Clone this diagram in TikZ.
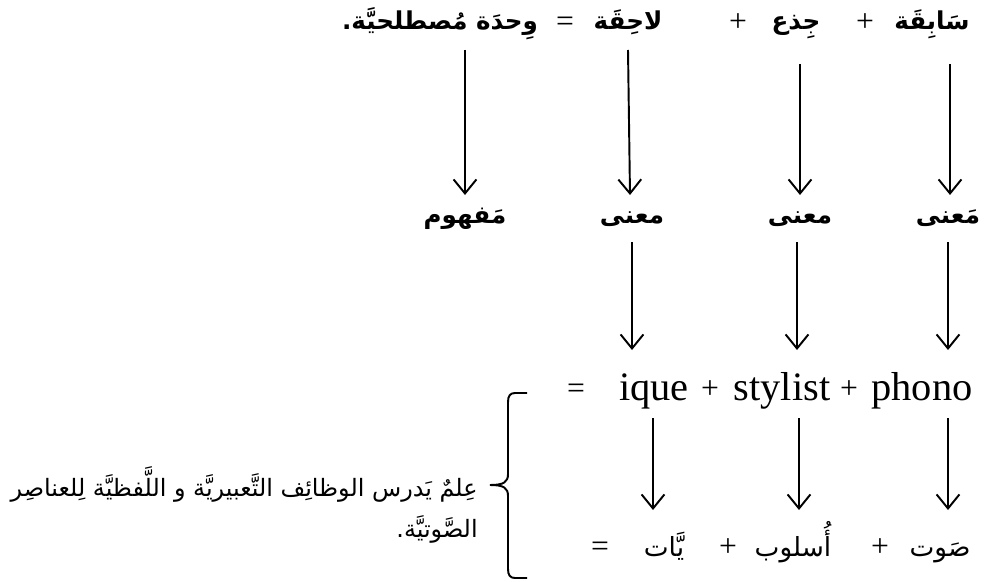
\documentclass[tikz,border=0pt]{standalone}
\usepackage{fontspec}
\setmainfont{Liberation Serif}
\newfontfamily\arabicfont[Script=Arabic]{DejaVu Sans}
\TeXXeTstate=1
\usepackage{tikz}
\usetikzlibrary{arrows.meta}
\tikzset{>={Straight Barb[length=8pt,width=13pt]}}
\newcommand{\arab}[1]{{\arabicfont\beginR #1\endR}}
\tikzset{
  toprow/.style={font=\fontsize{14}{17}\selectfont\bfseries, inner sep=0pt, anchor=base},
  latrow/.style={font=\fontsize{23}{27}\selectfont, inner sep=0pt, anchor=base},
  botrow/.style={font=\fontsize{15}{18}\selectfont, inner sep=0pt, anchor=base},
  sign/.style={font=\fontsize{18}{21}\selectfont, inner sep=0pt, anchor=base},
  arr/.style={->, line width=1.1pt}
}

\begin{document}
\begin{tikzpicture}[x=0.02cm,y=-0.02cm]
\useasboundingbox (0,0) rectangle (986,581);

% Top row
\node[toprow] (wahda)  at (440,30) {\arab{وِحدَة مُصطلحيَّة.}};
\node[sign]   (eqa)    at (565,32) {=};
\node[toprow] (lahiqa) at (628,30) {\arab{لاحِقَة}};
\node[sign]   (plsa)   at (738,32) {+};
\node[toprow] (jidh)   at (796,30) {\arab{جِذع}};
\node[sign]   (plsb)   at (865,32) {+};
\node[toprow] (sabiqa) at (932,30) {\arab{سَابِقَة}};

% Middle row
\node[toprow] (mafhum) at (465,223) {\arab{مَفهوم}};
\node[toprow] (manaa)  at (632,223) {\arab{معنى}};
\node[toprow] (manab)  at (800,223) {\arab{معنى}};
\node[toprow] (manac)  at (948,223) {\arab{مَعنى}};

% Latin row
\node[sign]   (eqb)     at (576,398) {=};
\node[latrow] (ique)    at (654,400) {ique};
\node[sign]   (plsc)    at (710,398) {+};
\node[latrow] (stylist) at (782,400) {stylist};
\node[sign]   (plsd)    at (849,398) {+};
\node[latrow] (phono)   at (922,400) {phono};

% Bottom row
\node[sign]   (eqc)   at (600,556) {=};
\node[botrow] (yat)   at (664,556) {\arab{يَّات}};
\node[sign]   (plse)  at (728,556) {+};
\node[botrow] (uslub) at (793,556) {\arab{أُسلوب}};
\node[sign]   (plsf)  at (880,556) {+};
\node[botrow] (sawt)  at (940,556) {\arab{صَوت}};

% Arrows
\coordinate (ta) at (465,50);
\coordinate (tb) at (628,50);
\coordinate (tc) at (800,64);
\coordinate (td) at (950,64);
\draw[arr] (ta) -- (ta |- 0,195);
\draw[arr] (tb) -- (630,195);
\draw[arr] (tc) -- (tc |- 0,195);
\draw[arr] (td) -- (td |- 0,195);

\draw[arr] (632,242) -- (632,350);
\draw[arr] (797,242) -- (797,350);
\draw[arr] (948,242) -- (948,350);

\draw[arr] (653,418) -- (653,510);
\draw[arr] (799,418) -- (799,510);
\draw[arr] (948,418) -- (948,510);

% Brace
\draw[line width=1.1pt] (527,393) -- (515,393) .. controls (510,393) and (508,396) .. (508,402)
  -- (508,474) .. controls (508,482) and (504,485) .. (490,485)
  .. controls (504,485) and (508,488) .. (508,496)
  -- (508,569) .. controls (508,575) and (510,578) .. (515,578) -- (527,578);

% Definition
\node[botrow, font=\fontsize{13.6}{16}\selectfont, anchor=base east] (defa) at (478,496) {\arab{عِلمٌ يَدرس الوظائِف التَّعبيريَّة و اللَّفظيَّة لِلعناصِر}};
\node[botrow, font=\fontsize{13.6}{16}\selectfont, anchor=base east] (defb) at (478,537) {\arab{الصَّوتيَّة.}};

\end{tikzpicture}
\end{document}
